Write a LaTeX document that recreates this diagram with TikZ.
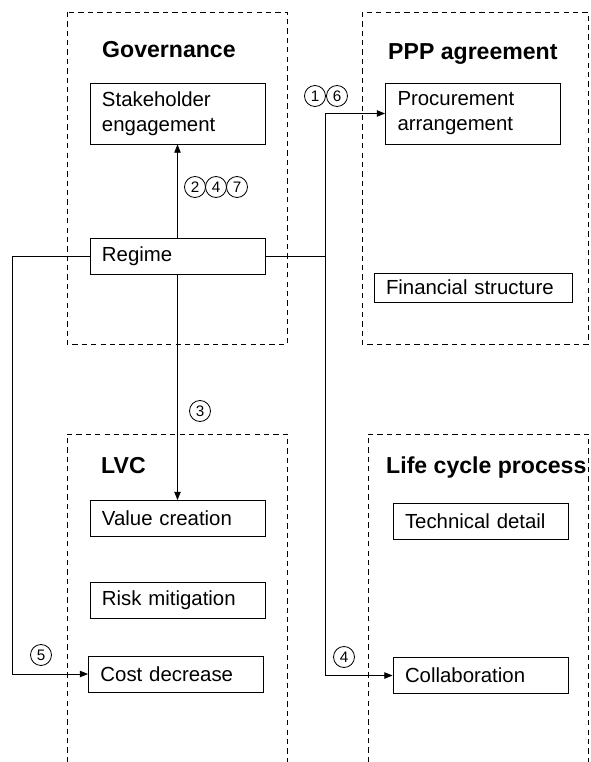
\documentclass[tikz,border=0pt]{standalone}
\usepackage{fontspec}
\setmainfont{Liberation Sans}
\usetikzlibrary{arrows.meta}
\begin{document}
\begin{tikzpicture}[x=0.03cm,y=-0.03cm,
    group/.style={dash pattern=on 4.5pt off 3.5pt, line width=0.7pt},
    title/.style={anchor=base west, inner sep=0, font=\fontsize{19.7}{23}\selectfont\bfseries},
    item/.style={draw, line width=0.8pt, align=left, inner xsep=0.36cm, inner ysep=0,
      text width=4.53cm, minimum height=1.08cm, font=\fontsize{17.4}{21.3}\selectfont},
    num/.style={draw, circle, line width=0.7pt, inner sep=0, minimum size=0.63cm,
      font=\fontsize{13}{13}\selectfont},
    link/.style={line width=0.6pt, -{Triangle[length=7pt,width=5.5pt]}}]

      \useasboundingbox (0,0) rectangle (590,762);

      \draw[group] (67,12) rectangle (287,344);
      \draw[group] (362,12) rectangle (588,344);
      \draw[group] (67,762) -- (67,434) -- (287,434) -- (287,762);
      \draw[group] (368,762) -- (368,434) -- (588,434) -- (588,762);

      \node[title] (gov) at (102,58) {Governance};
      \node[title] (ppp) at (388,60) {PPP agreement};
      \node[title] (lvc) at (101,473) {LVC};
      \node[title] (life) at (386,473) {Life cycle process};

      \node[item, minimum height=1.83cm] (stake) at (177.5,113.5) {Stakeholder\\engagement};
      \node[item] (regime) at (177.5,256) {Regime};
      \node[item, minimum height=1.83cm] (proc) at (473,113.5) {Procurement\\arrangement};
      \node[item, text width=5.22cm, minimum height=0.87cm] (fin) at (473,287.5) {Financial structure};
      \node[item] (value) at (177.5,518.5) {Value creation};
      \node[item] (risk) at (177.5,600.5) {Risk mitigation};
      \node[item] (cost) at (176,674) {Cost decrease};
      \node[item] (tech) at (480.5,521) {Technical detail};
      \node[item] (collab) at (480.5,675.5) {Collaboration};

      \coordinate (lft) at (12,256);
      \coordinate (rgt) at (325,256);

      \draw[link] (regime) -- (stake);
      \draw[link] (regime) -- (value);
      \draw[link] (regime.west) -- (lft) |- (cost.west);
      \draw[link] (regime.east) -- (rgt) |- (proc.west);
      \draw[link] (rgt) |- (collab.west);

      \node[num] (n2) at (195,187) {2};
      \node[num] (n4) at (216,187) {4};
      \node[num] (n7) at (237,187) {7};
      \node[num] (n1) at (315,96) {1};
      \node[num] (n6) at (337,96) {6};
      \node[num] (n3) at (200,411) {3};
      \node[num] (n5) at (41,655) {5};
      \node[num] (n4b) at (344,657) {4};
    \end{tikzpicture}
\end{document}
